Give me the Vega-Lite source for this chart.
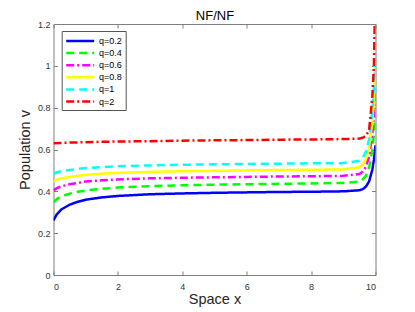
{
  "$schema": "https://vega.github.io/schema/vega-lite/v6.json",
  "width": 322,
  "height": 251,
  "autosize": "none",
  "padding": {"left": 53.5, "top": 24, "right": 39.5, "bottom": 37},
  "background": "#ffffff",
  "config": {
    "view": {"stroke": null},
    "font": "Liberation Sans"
  },
  "datasets": {
    "curves": [
      {"x": 0, "v": 0.261, "q": "q=0.2"}, {"x": 0.1, "v": 0.29, "q": "q=0.2"}, {"x": 0.25, "v": 0.314, "q": "q=0.2"}, {"x": 0.5, "v": 0.336, "q": "q=0.2"}, {"x": 0.75, "v": 0.35, "q": "q=0.2"}, {"x": 1, "v": 0.36, "q": "q=0.2"}, {"x": 1.5, "v": 0.371, "q": "q=0.2"}, {"x": 2, "v": 0.378, "q": "q=0.2"}, {"x": 3, "v": 0.386, "q": "q=0.2"}, {"x": 4, "v": 0.39, "q": "q=0.2"}, {"x": 5, "v": 0.393, "q": "q=0.2"}, {"x": 6, "v": 0.395, "q": "q=0.2"}, {"x": 7, "v": 0.397, "q": "q=0.2"}, {"x": 8, "v": 0.398, "q": "q=0.2"}, {"x": 9, "v": 0.4, "q": "q=0.2"}, {"x": 9.5, "v": 0.405, "q": "q=0.2"}, {"x": 9.6, "v": 0.41, "q": "q=0.2"}, {"x": 9.7, "v": 0.422, "q": "q=0.2"}, {"x": 9.8, "v": 0.447, "q": "q=0.2"}, {"x": 9.9, "v": 0.502, "q": "q=0.2"}, {"x": 9.95, "v": 0.55, "q": "q=0.2"}, {"x": 10, "v": 0.62, "q": "q=0.2"},
      {"x": 0, "v": 0.347, "q": "q=0.4"}, {"x": 0.1, "v": 0.363, "q": "q=0.4"}, {"x": 0.25, "v": 0.376, "q": "q=0.4"}, {"x": 0.5, "v": 0.389, "q": "q=0.4"}, {"x": 0.75, "v": 0.398, "q": "q=0.4"}, {"x": 1, "v": 0.404, "q": "q=0.4"}, {"x": 1.5, "v": 0.412, "q": "q=0.4"}, {"x": 2, "v": 0.418, "q": "q=0.4"}, {"x": 3, "v": 0.425, "q": "q=0.4"}, {"x": 4, "v": 0.429, "q": "q=0.4"}, {"x": 5, "v": 0.432, "q": "q=0.4"}, {"x": 6, "v": 0.434, "q": "q=0.4"}, {"x": 7, "v": 0.436, "q": "q=0.4"}, {"x": 8, "v": 0.438, "q": "q=0.4"}, {"x": 9, "v": 0.44, "q": "q=0.4"}, {"x": 9.5, "v": 0.447, "q": "q=0.4"}, {"x": 9.6, "v": 0.456, "q": "q=0.4"}, {"x": 9.7, "v": 0.474, "q": "q=0.4"}, {"x": 9.8, "v": 0.513, "q": "q=0.4"}, {"x": 9.9, "v": 0.597, "q": "q=0.4"}, {"x": 9.95, "v": 0.672, "q": "q=0.4"}, {"x": 10, "v": 0.78, "q": "q=0.4"},
      {"x": 0, "v": 0.404, "q": "q=0.6"}, {"x": 0.1, "v": 0.415, "q": "q=0.6"}, {"x": 0.25, "v": 0.424, "q": "q=0.6"}, {"x": 0.5, "v": 0.434, "q": "q=0.6"}, {"x": 0.75, "v": 0.44, "q": "q=0.6"}, {"x": 1, "v": 0.447, "q": "q=0.6"}, {"x": 1.5, "v": 0.453, "q": "q=0.6"}, {"x": 2, "v": 0.457, "q": "q=0.6"}, {"x": 3, "v": 0.462, "q": "q=0.6"}, {"x": 4, "v": 0.465, "q": "q=0.6"}, {"x": 5, "v": 0.467, "q": "q=0.6"}, {"x": 6, "v": 0.469, "q": "q=0.6"}, {"x": 7, "v": 0.471, "q": "q=0.6"}, {"x": 8, "v": 0.472, "q": "q=0.6"}, {"x": 9, "v": 0.474, "q": "q=0.6"}, {"x": 9.5, "v": 0.483, "q": "q=0.6"}, {"x": 9.6, "v": 0.494, "q": "q=0.6"}, {"x": 9.7, "v": 0.516, "q": "q=0.6"}, {"x": 9.8, "v": 0.566, "q": "q=0.6"}, {"x": 9.9, "v": 0.671, "q": "q=0.6"}, {"x": 9.95, "v": 0.764, "q": "q=0.6"}, {"x": 10, "v": 0.9, "q": "q=0.6"},
      {"x": 0, "v": 0.447, "q": "q=0.8"}, {"x": 0.1, "v": 0.456, "q": "q=0.8"}, {"x": 0.25, "v": 0.462, "q": "q=0.8"}, {"x": 0.5, "v": 0.469, "q": "q=0.8"}, {"x": 0.75, "v": 0.474, "q": "q=0.8"}, {"x": 1, "v": 0.479, "q": "q=0.8"}, {"x": 1.5, "v": 0.484, "q": "q=0.8"}, {"x": 2, "v": 0.488, "q": "q=0.8"}, {"x": 3, "v": 0.493, "q": "q=0.8"}, {"x": 4, "v": 0.496, "q": "q=0.8"}, {"x": 5, "v": 0.498, "q": "q=0.8"}, {"x": 6, "v": 0.5, "q": "q=0.8"}, {"x": 7, "v": 0.502, "q": "q=0.8"}, {"x": 8, "v": 0.503, "q": "q=0.8"}, {"x": 9, "v": 0.505, "q": "q=0.8"}, {"x": 9.5, "v": 0.515, "q": "q=0.8"}, {"x": 9.6, "v": 0.527, "q": "q=0.8"}, {"x": 9.7, "v": 0.553, "q": "q=0.8"}, {"x": 9.8, "v": 0.609, "q": "q=0.8"}, {"x": 9.9, "v": 0.73, "q": "q=0.8"}, {"x": 9.95, "v": 0.835, "q": "q=0.8"}, {"x": 10, "v": 0.99, "q": "q=0.8"},
      {"x": 0, "v": 0.484, "q": "q=1"}, {"x": 0.1, "v": 0.491, "q": "q=1"}, {"x": 0.25, "v": 0.496, "q": "q=1"}, {"x": 0.5, "v": 0.502, "q": "q=1"}, {"x": 0.75, "v": 0.507, "q": "q=1"}, {"x": 1, "v": 0.511, "q": "q=1"}, {"x": 1.5, "v": 0.516, "q": "q=1"}, {"x": 2, "v": 0.52, "q": "q=1"}, {"x": 3, "v": 0.524, "q": "q=1"}, {"x": 4, "v": 0.527, "q": "q=1"}, {"x": 5, "v": 0.529, "q": "q=1"}, {"x": 6, "v": 0.531, "q": "q=1"}, {"x": 7, "v": 0.532, "q": "q=1"}, {"x": 8, "v": 0.534, "q": "q=1"}, {"x": 9, "v": 0.535, "q": "q=1"}, {"x": 9.5, "v": 0.546, "q": "q=1"}, {"x": 9.6, "v": 0.559, "q": "q=1"}, {"x": 9.7, "v": 0.587, "q": "q=1"}, {"x": 9.8, "v": 0.648, "q": "q=1"}, {"x": 9.9, "v": 0.778, "q": "q=1"}, {"x": 9.95, "v": 0.892, "q": "q=1"}, {"x": 10, "v": 1.06, "q": "q=1"},
      {"x": 0, "v": 0.63, "q": "q=2"}, {"x": 0.5, "v": 0.633, "q": "q=2"}, {"x": 1, "v": 0.635, "q": "q=2"}, {"x": 1.5, "v": 0.637, "q": "q=2"}, {"x": 2, "v": 0.638, "q": "q=2"}, {"x": 3, "v": 0.64, "q": "q=2"}, {"x": 4, "v": 0.642, "q": "q=2"}, {"x": 5, "v": 0.644, "q": "q=2"}, {"x": 6, "v": 0.645, "q": "q=2"}, {"x": 7, "v": 0.647, "q": "q=2"}, {"x": 8, "v": 0.648, "q": "q=2"}, {"x": 9, "v": 0.65, "q": "q=2"}, {"x": 9.5, "v": 0.652, "q": "q=2"}, {"x": 9.6, "v": 0.656, "q": "q=2"}, {"x": 9.7, "v": 0.665, "q": "q=2"}, {"x": 9.8, "v": 0.69, "q": "q=2"}, {"x": 9.9, "v": 0.85, "q": "q=2"}, {"x": 9.95, "v": 1.0, "q": "q=2"}, {"x": 10, "v": 1.4, "q": "q=2"}
    ]
  },
  "data": {"name": "curves"},
  "layer": [
    {
      "mark": {"type": "line", "strokeWidth": 2.5, "clip": true, "strokeCap": "butt"},
      "encoding": {
        "x": {"field": "x", "type": "quantitative", "scale": {"domain": [0, 10], "nice": false},
          "axis": {"title": "Space x", "values": [0, 2, 4, 6, 8, 10], "grid": false, "tickSize": -4, "tickColor": "#7f7f7f", "domainColor": "#7f7f7f", "labelFont": "Liberation Sans", "labelFontSize": 9, "labelColor": "#333333", "labelPadding": 11.5, "titleFont": "Liberation Sans", "titleFontSize": 14.5, "titleFontWeight": "normal", "titleColor": "#262626", "titlePadding": 1}},
        "y": {"field": "v", "type": "quantitative", "scale": {"domain": [0, 1.2], "nice": false},
          "axis": {"title": "Population v", "values": [0, 0.2, 0.4, 0.6, 0.8, 1, 1.2], "format": "~g", "grid": false, "tickSize": -4, "tickColor": "#7f7f7f", "domainColor": "#7f7f7f", "labelFont": "Liberation Sans", "labelFontSize": 9, "labelColor": "#333333", "labelPadding": 7.5, "titleFont": "Liberation Sans", "titleFontSize": 14.5, "titleFontWeight": "normal", "titleColor": "#262626", "titlePadding": 5}},
        "color": {"field": "q", "type": "nominal",
          "scale": {"domain": ["q=0.2", "q=0.4", "q=0.6", "q=0.8", "q=1", "q=2"], "range": ["#0000ff", "#00ff00", "#ff00ff", "#ffff00", "#00ffff", "#ff0000"]},
          "legend": {"title": null, "orient": "none", "legendX": 8.2, "legendY": 7, "symbolType": "M-1,0H4.09", "symbolSize": 121, "symbolStrokeWidth": 2.5, "labelOffset": 20.3, "labelFont": "Liberation Sans", "labelFontSize": 9, "labelColor": "#000000", "rowPadding": 0.1, "padding": 3, "strokeColor": "#555555", "fillColor": "#ffffff"}},
        "strokeDash": {"field": "q", "type": "nominal",
          "scale": {"domain": ["q=0.2", "q=0.4", "q=0.6", "q=0.8", "q=1", "q=2"], "range": [[1, 0], [8, 5], [8, 3, 2, 3], [1, 0], [8, 5], [8, 3, 2, 3]]},
          "legend": {"title": null, "orient": "none", "legendX": 8.2, "legendY": 7, "symbolType": "M-1,0H4.09", "symbolSize": 121, "symbolStrokeWidth": 2.5, "labelOffset": 20.3, "labelFont": "Liberation Sans", "labelFontSize": 9, "labelColor": "#000000", "rowPadding": 0.1, "padding": 3, "strokeColor": "#555555", "fillColor": "#ffffff"}}
      }
    },
    {
      "mark": {"type": "line", "opacity": 0},
      "encoding": {
        "x": {"field": "x", "type": "quantitative", "scale": {"domain": [0, 10], "nice": false},
          "axis": {"orient": "top", "title": "NF/NF", "titleFont": "Liberation Sans", "titleFontSize": 13, "titleFontWeight": "normal", "titleColor": "#000000", "titleBaseline": "bottom", "titlePadding": 1.5, "labels": false, "values": [0, 2, 4, 6, 8, 10], "grid": false, "tickSize": -4, "tickColor": "#7f7f7f", "domainColor": "#7f7f7f"}},
        "y": {"field": "v", "type": "quantitative", "scale": {"domain": [0, 1.2], "nice": false},
          "axis": {"orient": "right", "title": null, "labels": false, "values": [0, 0.2, 0.4, 0.6, 0.8, 1, 1.2], "grid": false, "tickSize": -4, "tickColor": "#7f7f7f", "domainColor": "#7f7f7f"}},
        "detail": {"field": "q", "type": "nominal"}
      }
    }
  ],
  "resolve": {"axis": {"x": "independent", "y": "independent"}}
}
